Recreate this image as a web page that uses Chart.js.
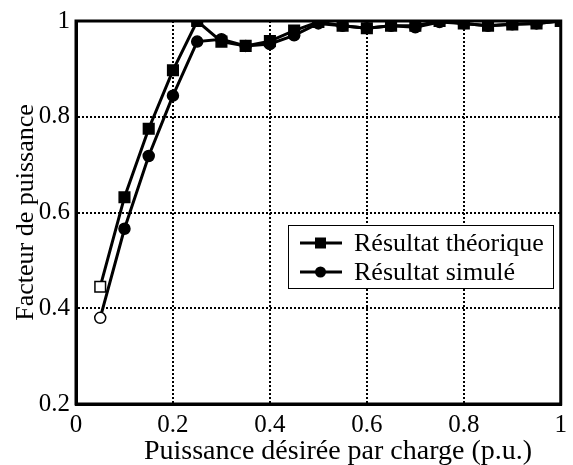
<!DOCTYPE html>
<html>
<head>
<meta charset="utf-8">
<script src="https://cdn.jsdelivr.net/npm/chart.js@4"></script>
<style>
  html, body { margin: 0; padding: 0; background: #fff; }
  #wrap { width: 573px; height: 465px; }
</style>
</head>
<body>
<div id="wrap"><canvas id="chart" width="573" height="465"></canvas></div>
<script>
// puissance désirée par charge (p.u.)
var puissance = [0.05, 0.1, 0.15, 0.2, 0.25, 0.3, 0.35, 0.4, 0.45, 0.5,
                 0.55, 0.6, 0.65, 0.7, 0.75, 0.8, 0.85, 0.9, 0.95, 1.0];
var theorique = [0.445, 0.632, 0.775, 0.897, 1.0, 0.957, 0.948, 0.958, 0.98, 0.998,
                 0.99, 0.985, 0.99, 0.99, 1.0, 0.995, 0.99, 0.993, 0.995, 1.0];
var simule = [0.38, 0.566, 0.718, 0.844, 0.957, 0.962, 0.948, 0.952, 0.97, 0.995,
              0.99, 0.985, 0.99, 0.987, 0.998, 0.995, 0.99, 0.993, 0.995, 1.0];
var xTicks = [0, 0.2, 0.4, 0.6, 0.8, 1];
var yTicks = [0.2, 0.4, 0.6, 0.8, 1];
var xTitle = 'Puissance désirée par charge (p.u.)';

var serif = "'Liberation Serif', 'DejaVu Serif', serif";

function toPoints(ys) {
  return ys.map(function(y, i) { return { x: puissance[i], y: y }; });
}
function fills(n) {
  var a = [];
  for (var i = 0; i < n; i++) a.push(i === 0 ? '#fff' : '#000');
  return a;
}

// legend box drawn inside the plot, like the original figure
var insideLegend = {
  id: 'insideLegend',
  afterDatasetsDraw: function(chart) {
    var ctx = chart.ctx;
    var x0 = 288, y0 = 225, w = 265, h = 63;
    ctx.save();
    ctx.fillStyle = '#fff';
    ctx.fillRect(x0, y0, w, h);
    ctx.strokeStyle = '#000';
    ctx.lineWidth = 1;
    ctx.strokeRect(x0 + 0.5, y0 + 0.5, w, h);
    ctx.font = '26px ' + serif;
    ctx.textBaseline = 'middle';
    chart.data.datasets.forEach(function(ds, i) {
      var cy = y0 + 18 + i * 29;
      ctx.strokeStyle = '#000';
      ctx.lineWidth = 3;
      ctx.beginPath();
      ctx.moveTo(x0 + 12, cy);
      ctx.lineTo(x0 + 54, cy);
      ctx.stroke();
      ctx.fillStyle = '#000';
      ctx.beginPath();
      if (ds.pointStyle === 'rect') {
        ctx.rect(x0 + 27, cy - 5.5, 11, 11);
      } else {
        ctx.arc(x0 + 32.5, cy, 5.5, 0, Math.PI * 2);
      }
      ctx.fill();
      ctx.fillText(ds.label, x0 + 66, cy + 1);
    });
    ctx.restore();
  }
};

// x title sits a bit right of the plot centre in the original
var xTitlePlugin = {
  id: 'xTitle',
  afterDraw: function(chart) {
    var ctx = chart.ctx;
    ctx.save();
    ctx.fillStyle = '#000';
    ctx.font = '28px ' + serif;
    ctx.textAlign = 'center';
    ctx.textBaseline = 'alphabetic';
    ctx.fillText(xTitle, 338, 459);
    ctx.restore();
  }
};

new Chart(document.getElementById('chart'), {
  type: 'line',
  data: {
    datasets: [{
      label: 'Résultat théorique',
      data: toPoints(theorique),
      borderColor: '#000',
      borderWidth: 3,
      pointStyle: 'rect',
      pointRadius: 7.5,
      pointBorderWidth: 1.5,
      pointBorderColor: '#000',
      pointBackgroundColor: fills(theorique.length),
      tension: 0
    }, {
      label: 'Résultat simulé',
      data: toPoints(simule),
      borderColor: '#000',
      borderWidth: 3,
      pointStyle: 'circle',
      pointRadius: 5.5,
      pointBorderWidth: 1.5,
      pointBorderColor: '#000',
      pointBackgroundColor: fills(simule.length),
      tension: 0
    }]
  },
  options: {
    responsive: false,
    animation: false,
    layout: { padding: { top: 18, right: 11, left: 0, bottom: 0 } },
    plugins: { legend: { display: false }, tooltip: { enabled: false } },
    scales: {
      x: {
        type: 'linear',
        min: 0, max: 1,
        afterBuildTicks: function(s) { s.ticks = xTicks.map(function(v) { return { value: v }; }); },
        afterFit: function(s) { s.height = 61; },
        grid: { color: '#000', lineWidth: 2, drawTicks: false },
        border: { display: true, color: '#000', width: 3, dash: [2, 2] },
        ticks: {
          color: '#000', padding: 6, maxRotation: 0,
          font: { family: serif, size: 25 },
          callback: function(v) { return String(v); }
        },
        title: { display: false }
      },
      y: {
        min: 0.2, max: 1,
        afterBuildTicks: function(s) { s.ticks = yTicks.map(function(v) { return { value: v }; }); },
        afterFit: function(s) { s.width = 76; },
        grid: { color: '#000', lineWidth: 2, drawTicks: false },
        border: { display: true, color: '#000', width: 3, dash: [2, 2] },
        ticks: {
          color: '#000', padding: 6,
          font: { family: serif, size: 25 },
          callback: function(v) { return String(v); }
        },
        title: {
          display: true, text: 'Facteur de puissance', color: '#000',
          font: { family: serif, size: 26 }, padding: { top: 11, bottom: 0 }
        }
      }
    }
  },
  plugins: [insideLegend, xTitlePlugin, {
    id: 'frame',
    afterDraw: function(chart) {
      var a = chart.chartArea, ctx = chart.ctx;
      ctx.save();
      ctx.strokeStyle = '#000';
      ctx.lineWidth = 3;
      ctx.strokeRect(a.left, a.top, a.right - a.left, a.bottom - a.top);
      ctx.restore();
    }
  }]
});
</script>
</body>
</html>
